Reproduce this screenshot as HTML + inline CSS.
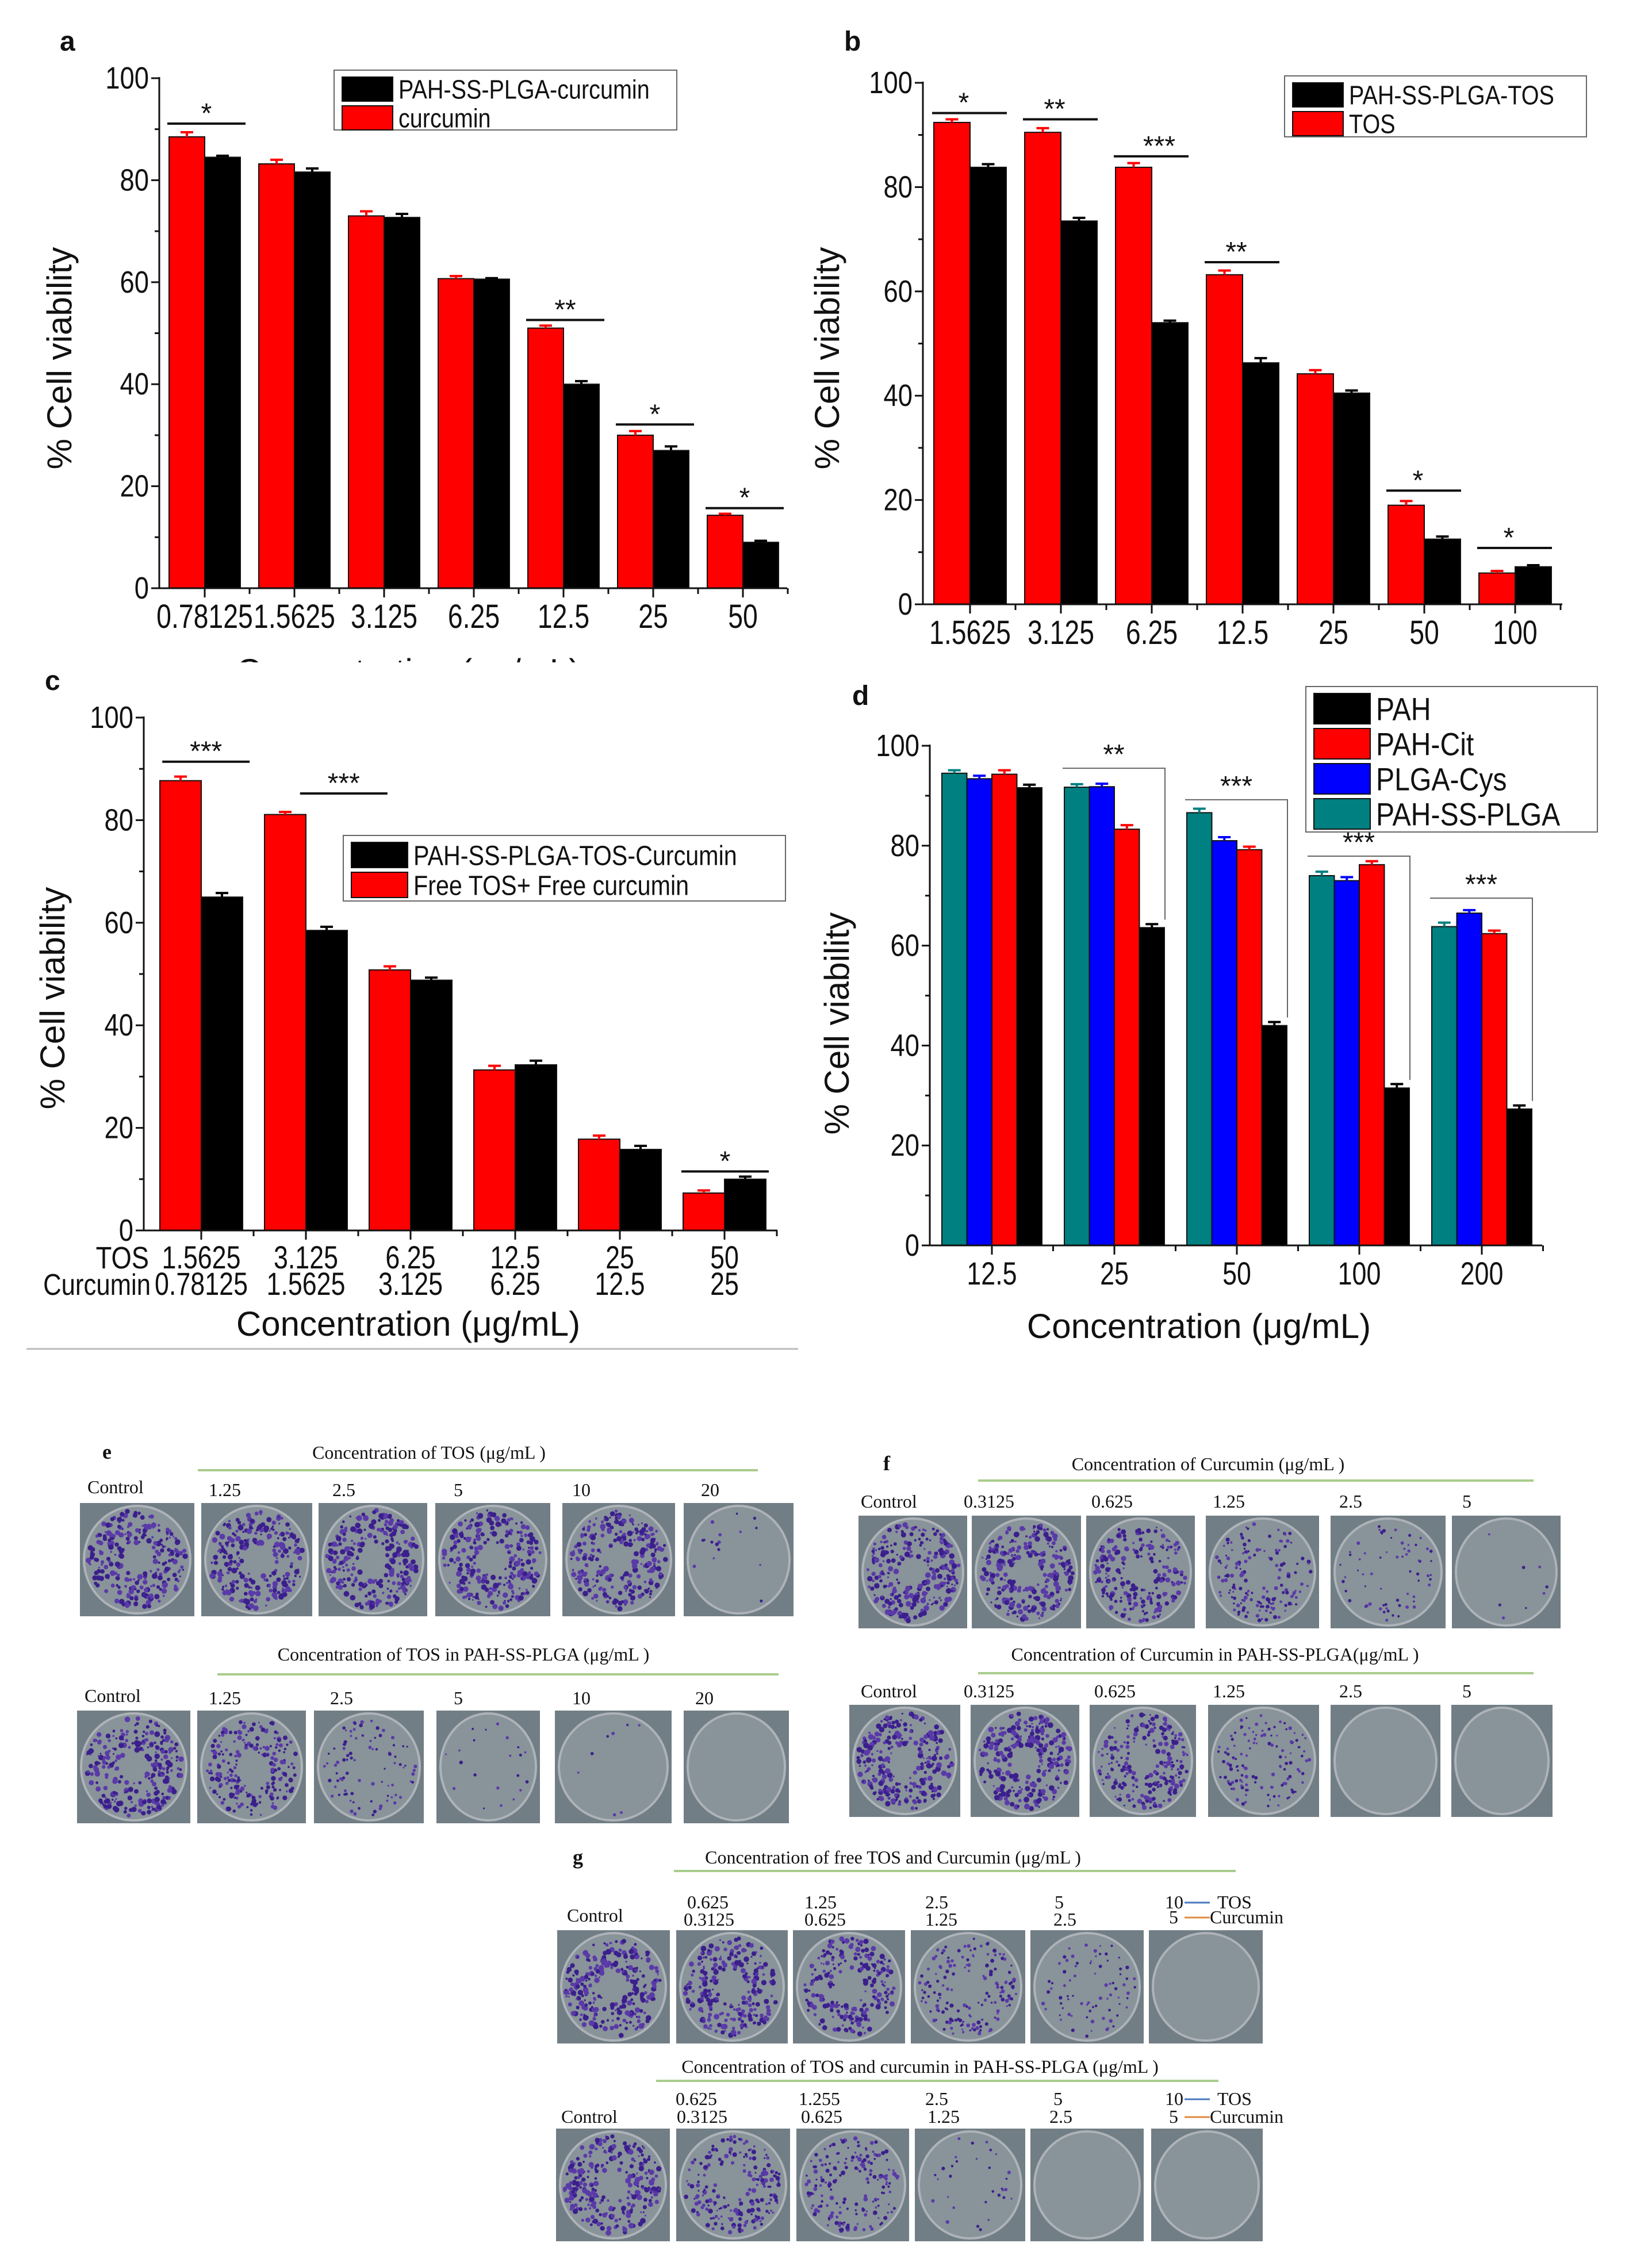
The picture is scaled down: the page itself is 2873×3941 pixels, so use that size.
<!DOCTYPE html>
<html><head><meta charset="utf-8"><title>Cell viability figure</title>
<style>
html,body{margin:0;padding:0;background:#fff;}
svg{display:block;}
text{font-family:"Liberation Sans",Arial,sans-serif;fill:#111;}
.serif{font-family:"Liberation Serif","Times New Roman",serif;}
</style></head>
<body>
<svg id="fig" xmlns="http://www.w3.org/2000/svg" width="2873" height="3941" viewBox="0 0 2873 3941">
<rect x="0" y="0" width="2873" height="3941" fill="#ffffff"/>
<defs><clipPath id="clipA"><rect x="0" y="1100" width="1400" height="52"/></clipPath></defs>
</svg>
<script>
// ---------- Panel a data ----------
const catsA = ['0.78125','1.5625','3.125','6.25','12.5','25','50'];
const redA = [88.5,83.2,73.0,60.7,51.0,30.0,14.3];
const redErrA = [0.9,0.8,0.9,0.5,0.5,0.8,0.3];
const blackA = [84.5,81.6,72.7,60.6,40.0,27.0,9.0];
const blackErrA = [0.3,0.7,0.7,0.2,0.6,0.8,0.3];
const sigGroupsA = [0,4,5,6];
const sigLevelsA = [91.1,52.6,32.1,15.7];
const sigStarsA = ['*','**','*','*'];
const yTicks = [0,20,40,60,80,100];

// ---------- Panel b data ----------
const catsB = ['1.5625','3.125','6.25','12.5','25','50','100'];
const redB = [92.4,90.5,83.8,63.2,44.2,19.0,6.0];
const redErrB = [0.6,0.8,0.8,0.8,0.7,0.8,0.4];
const blackB = [83.8,73.5,54.0,46.3,40.5,12.5,7.2];
const blackErrB = [0.6,0.6,0.4,0.9,0.5,0.5,0.3];
const sigGroupsB = [0,1,2,3,5,6];
const sigLevelsB = [94.2,93.0,85.9,65.6,21.8,10.8];
const sigStarsB = ['*','**','***','**','*','*'];

// ---------- Panel c data ----------
const catsTOSC = ['1.5625','3.125','6.25','12.5','25','50'];
const catsCurC = ['0.78125','1.5625','3.125','6.25','12.5','25'];
const redC = [87.7,81.1,50.8,31.3,17.8,7.3];
const redErrC = [0.8,0.5,0.7,0.8,0.7,0.5];
const blackC = [65.0,58.5,48.8,32.3,15.8,10.0];
const blackErrC = [0.8,0.7,0.5,0.8,0.7,0.5];
const sigGroupsC = [0,1,5];
const sigLevelsC = [91.4,85.2,11.5];
const sigStarsC = ['***','***','*'];

// ---------- Panel d data ----------
const catsD = ['12.5','25','50','100','200'];
const tealD = [94.5,91.7,86.6,74.0,63.8];
const tealErrD = [0.6,0.6,0.8,0.8,0.8];
const blueD = [93.4,91.8,81.0,73.0,66.5];
const blueErrD = [0.6,0.6,0.7,0.7,0.6];
const redD = [94.3,83.3,79.2,76.2,62.4];
const redErrD = [0.8,0.8,0.6,0.7,0.6];
const blackD = [91.6,63.6,44.0,31.5,27.3];
const blackErrD = [0.6,0.7,0.7,0.8,0.7];
const sigGroupsD = [1,2,3,4];
const sigLevelsD = [95.5,89.2,77.9,69.5];
const sigStarsD = ['**','***','***','***'];

const NS='http://www.w3.org/2000/svg';
const svg=document.getElementById('fig');
function mk(tag, attrs, parent){const e=document.createElementNS(NS,tag);for(const k in attrs)e.setAttribute(k,attrs[k]);(parent||svg).appendChild(e);return e;}
function tx(str, attrs, parent){const e=mk('text',attrs,parent);e.textContent=str;return e;}
// condensed text: squeeze horizontally to mimic a narrow font
function ntx(str, attrs, parent, f){const e=tx(str,attrs,parent);const w=e.getComputedTextLength();if(w>0){e.setAttribute('textLength',(w*(f||0.84)).toFixed(1));e.setAttribute('lengthAdjust','spacingAndGlyphs');}return e;}

function drawChart(p){
  const g=mk('g',{});
  
  
  const ys=v=>p.y0-v/100*(p.y0-p.y100);
  const bx=(gi,si)=>p.firstX+gi*p.pitch+si*p.barW;
  p.series.forEach((s,si)=>{
    s.vals.forEach((v,gi)=>{
      const x=bx(gi,si), y=ys(v);
      const r=mk('rect',{x:x,y:y,width:p.barW,height:p.y0-y,fill:s.color,stroke:'#111','stroke-width':2},g);
      
      
      const ye=ys(v+s.errs[gi]); const cx=x+p.barW/2;
      const e1=mk('path',{d:'M'+cx+' '+y+'V'+ye+'M'+(cx-11)+' '+ye+'H'+(cx+11),stroke:s.errColor||s.color,'stroke-width':4,fill:'none'},g);
      
      
    });
  });
  const ax=mk('path',{d:'M'+p.axisX+' '+(p.y100-2)+'V'+p.y0+'H'+p.axisEnd,stroke:'#111','stroke-width':3,fill:'none'},g);
  
  
  for(let v=0;v<=100;v+=10){
    const y=ys(v);
    const t=mk('line',{x1:p.axisX-(v%20===0?14:8),x2:p.axisX,y1:y,y2:y,stroke:'#111','stroke-width':3},g);
    
    
  }
  yTicks.forEach(v=>{
    const t=ntx(String(v),{x:p.axisX-18,y:ys(v)+18,'text-anchor':'end','font-size':p.tickFont||54},g);
    
    
  });
  const ng=p.series[0].vals.length, nb=p.series.length;
  for(let gi=0;gi<=ng;gi++){
    const xb=p.firstX+gi*p.pitch-(p.pitch-nb*p.barW)/2;
    if(gi>0){const t=mk('line',{x1:xb,x2:xb,y1:p.y0,y2:p.y0+10,stroke:'#111','stroke-width':3},g);
      
      }
    if(gi<ng){const xc=p.firstX+gi*p.pitch+nb*p.barW/2;
      const t=mk('line',{x1:xc,x2:xc,y1:p.y0,y2:p.y0+16,stroke:'#111','stroke-width':3},g);
      
      }
  }
  p.xRows.forEach(row=>{
    row.labels.forEach((lab,gi)=>{
      const xc=p.firstX+gi*p.pitch+nb*p.barW/2;
      const t=ntx(lab,{x:xc,y:row.y,'text-anchor':'middle','font-size':row.size||54},g,0.8);
      
      
    });
  });
  const yt=tx('% Cell viability',{x:0,y:0,'text-anchor':'middle','font-size':60,transform:'translate('+p.yTitleX+','+p.yTitleY+') rotate(-90)'},g);
  
  
  const pl=tx(p.letter,{x:p.letterX,y:p.letterY,'font-size':48,'font-weight':'bold'},g);
  
  
  p.sig.groups.forEach((gi,k)=>{
    const y=ys(p.sig.levels[k]);
    const xs=p.firstX+gi*p.pitch+(p.sig.offsets?p.sig.offsets[k]:0)*p.barW-3;
    const xe=xs+nb*p.barW+(p.sig.extra||8);
    let d='M'+xs+' '+y+'H'+xe;
    if(p.sig.bracket){const vb=p.series[nb-1].vals[gi]; d+='V'+(ys(vb)-14);}
    const l=mk('path',{d:d,stroke:p.sig.bracket?'#666':'#111','stroke-width':p.sig.bracket?2:4,fill:'none'},g);
    
    
    const sx=(xs+xe)/2+(p.sig.starShift?p.sig.starShift[k]:0);
    const st=tx(p.sig.stars[k],{x:sx,y:y-(p.sig.bracket?8:2),'text-anchor':'middle','font-size':48},g);
    
    
  });
  const L=p.legend;
  const lb=mk('rect',{x:L.x,y:L.y,width:L.w,height:L.h,fill:'#fff',stroke:'#666','stroke-width':2},g);
  
  
  L.items.forEach((it,k)=>{
    const yy=L.y+L.pad+k*L.row;
    const sw=mk('rect',{x:L.x+14,y:yy,width:L.sw,height:L.row-8,fill:it.color,stroke:'#111','stroke-width':2},g);
    
    
    const t=ntx(it.label,{x:L.x+24+L.sw,y:yy+(L.row-8)/2+L.font*0.36,'font-size':L.font},g,0.86);
    
    
  });
  return g;
}

drawChart({name:'chart-a',letter:'a',letterX:104,letterY:88,axisX:277,axisEnd:1369,y0:1023,y100:136,firstX:294,barW:62,pitch:156,
  series:[{key:'curcumin',vals:redA,errs:redErrA,color:'#ff0000'},{key:'pah-ss-plga-curcumin',vals:blackA,errs:blackErrA,color:'#000'}],
  xRows:[{labels:catsA,y:1092,size:58}],yTitleX:124,yTitleY:623,
  sig:{groups:sigGroupsA,levels:sigLevelsA,stars:sigStarsA,extra:12},
  legend:{x:581,y:122,w:596,h:104,pad:12,row:50,sw:88,font:46,items:[{label:'PAH-SS-PLGA-curcumin',color:'#000'},{label:'curcumin',color:'#ff0000'}]}});

drawChart({name:'chart-b',letter:'b',letterX:1468,letterY:88,axisX:1605,axisEnd:2717,y0:1051,y100:144,firstX:1624,barW:63,pitch:158,
  series:[{key:'tos',vals:redB,errs:redErrB,color:'#ff0000'},{key:'pah-ss-plga-tos',vals:blackB,errs:blackErrB,color:'#000'}],
  xRows:[{labels:catsB,y:1120,size:58}],yTitleX:1459,yTitleY:623,
  sig:{groups:sigGroupsB,levels:sigLevelsB,stars:sigStarsB,extra:4,starShift:[-10,-10,14,-10,-10,-10]},
  legend:{x:2234,y:132,w:525,h:106,pad:12,row:50,sw:88,font:46,items:[{label:'PAH-SS-PLGA-TOS',color:'#000'},{label:'TOS',color:'#ff0000'}]}});

drawChart({name:'chart-c',letter:'c',letterX:78,letterY:1200,axisX:250,axisEnd:1352,y0:2140,y100:1248,firstX:278,barW:72,pitch:182,
  series:[{key:'free-tos-curcumin',vals:redC,errs:redErrC,color:'#ff0000'},{key:'pah-ss-plga-tos-curcumin',vals:blackC,errs:blackErrC,color:'#000'}],
  xRows:[{labels:catsTOSC,y:2206,size:56},{labels:catsCurC,y:2252,size:56}],yTitleX:112,yTitleY:1736,
  sig:{groups:sigGroupsC,levels:sigLevelsC,stars:sigStarsC,offsets:[0.1,0.9,0],extra:0},
  legend:{x:597,y:1453,w:769,h:114,pad:12,row:52,sw:98,font:48,items:[{label:'PAH-SS-PLGA-TOS-Curcumin',color:'#000'},{label:'Free TOS+ Free curcumin',color:'#ff0000'}]}});

drawChart({name:'chart-d',letter:'d',letterX:1482,letterY:1226,axisX:1617,axisEnd:2682,y0:2166,y100:1297,firstX:1638,barW:43.5,pitch:213,
  series:[{key:'pah-ss-plga',vals:tealD,errs:tealErrD,color:'#008080'},{key:'plga-cys',vals:blueD,errs:blueErrD,color:'#0000ff'},{key:'pah-cit',vals:redD,errs:redErrD,color:'#ff0000'},{key:'pah',vals:blackD,errs:blackErrD,color:'#000'}],
  xRows:[{labels:catsD,y:2234,size:56}],yTitleX:1476,yTitleY:1780,
  sig:{groups:sigGroupsD,levels:sigLevelsD,stars:sigStarsD,bracket:true,extra:4},
  legend:{x:2271,y:1194,w:507,h:253,pad:12,row:61,sw:98,font:56,items:[{label:'PAH',color:'#000'},{label:'PAH-Cit',color:'#ff0000'},{label:'PLGA-Cys',color:'#0000ff'},{label:'PAH-SS-PLGA',color:'#008080'}]}});

(function(){
  let t=ntx('TOS',{x:259,y:2206,'text-anchor':'end','font-size':54});
  
  
  t=ntx('Curcumin',{x:262,y:2252,'text-anchor':'end','font-size':52});
  
  
  t=tx('Concentration (μg/mL)',{x:710,y:2323,'text-anchor':'middle','font-size':60});
  
  
  t=tx('Concentration (μg/mL)',{x:2085,y:2327,'text-anchor':'middle','font-size':60});
  
  
  t=tx('Concentration (μg/mL)',{x:710,y:1188,'text-anchor':'middle','font-size':60,'clip-path':'url(#clipA)'});
  
  
  const l=mk('line',{x1:46,x2:1388,y1:2346,y2:2346,stroke:'#bbb','stroke-width':3});
  
  
})();

// ---------- Colony plates (photographs) ----------
let seed=12345;
function rnd(){seed=(seed*1103515245+12345)%2147483648;return seed/2147483648;}
function plate(x0,x1,y0,y1,dens,name){
  const g=mk('g',{});
  
  
  const w=x1-x0,h=y1-y0;
  let r=mk('rect',{x:x0,y:y0,width:w,height:h,fill:'#727e85'},g);
  
  
  const cx=x0+w/2,cy=y0+h/2,rx=w/2-7,ry=h/2-5;
  r=mk('ellipse',{cx:cx,cy:cy,rx:rx,ry:ry,fill:'#89939a',stroke:'#adb3b8','stroke-width':4},g);
  
  
  const n=Math.round(dens*260);
  for(let i=0;i<n;i++){
    const a=rnd()*Math.PI*2; const rr=Math.sqrt(0.1+0.9*rnd())*0.92;
    const c=mk('circle',{cx:cx+Math.cos(a)*rr*rx,cy:cy+Math.sin(a)*rr*ry,r:1.5+rnd()*3.5*Math.max(dens,0.5),fill:rnd()<0.5?'#3b1f8c':'#5a3aa8'},g);
    
    
  }
}
function stxt(s,x,y,size,anchor,name){
  const t=tx(s,{x:x,y:y,'font-size':size,'text-anchor':anchor||'start','class':'serif'});
  
  
  return t;
}
function gline(x1,x2,y,name){
  const l=mk('line',{x1:x1,x2:x2,y1:y,y2:y,stroke:'#a9cc8c','stroke-width':4});
  
  
}
stxt('e',178,2537,36,'start','panel-label-e').setAttribute('font-weight','bold');
stxt('Concentration of TOS (μg/mL )',746,2537,32,'middle','title-e1');
gline(344,1318,2557,'divider-e1');
stxt('Control',152,2597,32,'start','label');
[['1.25',363],['2.5',578],['5',789],['10',995],['20',1219]].forEach(a=>stxt(a[0],a[1],2602,32,'start','concentration-label'));
const e1=[[139,338],[350,543],[554,743],[757,957],[978,1174],[1189,1380]], e1d=[1,1,1,1,1,0.06];
e1.forEach((p,i)=>plate(p[0],p[1],2614,2811,e1d[i],'plate-e1-'+i));
stxt('Concentration of TOS in PAH-SS-PLGA (μg/mL )',806,2888,32,'middle','title-e2');
gline(378,1354,2912,'divider-e2');
stxt('Control',147,2960,32,'start','label');
[['1.25',363],['2.5',574],['5',789],['10',995],['20',1209]].forEach(a=>stxt(a[0],a[1],2964,32,'start','concentration-label'));
const e2=[[134,331],[343,532],[546,737],[759,939],[965,1168],[1189,1372]], e2d=[1,0.8,0.35,0.08,0.03,0];
e2.forEach((p,i)=>plate(p[0],p[1],2975,3171,e2d[i],'plate-e2-'+i));
stxt('f',1536,2557,36,'start','panel-label-f').setAttribute('font-weight','bold');
stxt('Concentration of Curcumin (μg/mL )',2101,2557,32,'middle','title-f1');
gline(1701,2667,2575,'divider-f1');
stxt('Control',1497,2622,32,'start','label');
[['0.3125',1676],['0.625',1898],['1.25',2109],['2.5',2329],['5',2543]].forEach(a=>stxt(a[0],a[1],2622,32,'start','concentration-label'));
const f1=[[1493,1682],[1690,1880],[1889,2078],[2097,2294],[2314,2514],[2525,2714]], f1d=[1,1,0.85,0.6,0.25,0.03];
f1.forEach((p,i)=>plate(p[0],p[1],2636,2832,f1d[i],'plate-f1-'+i));
stxt('Concentration of Curcumin in PAH-SS-PLGA(μg/mL )',2113,2888,32,'middle','title-f2');
gline(1701,2667,2910,'divider-f2');
stxt('Control',1497,2952,32,'start','label');
[['0.3125',1676],['0.625',1903],['1.25',2109],['2.5',2329],['5',2543]].forEach(a=>stxt(a[0],a[1],2952,32,'start','concentration-label'));
const f2=[[1477,1670],[1688,1877],[1895,2080],[2101,2294],[2314,2505],[2524,2700]], f2d=[1,1,0.85,0.5,0,0];
f2.forEach((p,i)=>plate(p[0],p[1],2965,3160,f2d[i],'plate-f2-'+i));
stxt('g',996,3242,36,'start','panel-label-g').setAttribute('font-weight','bold');
stxt('Concentration of free TOS and Curcumin (μg/mL )',1553,3241,32,'middle','title-g1');
gline(1172,2149,3254,'divider-g1');
stxt('Control',986,3342,32,'start','label');
[['0.625','0.3125',1195,1189],['1.25','0.625',1399,1399],['2.5','1.25',1609,1609],['5','2.5',1834,1832]].forEach(a=>{stxt(a[0],a[2],3319,32,'start','tos-concentration');stxt(a[1],a[3],3349,32,'start','curcumin-concentration');});
function arrowLbl(y1,y2){
  stxt('10',2026,y1,32,'start','tos-concentration');
  stxt('5',2033,y2,32,'start','curcumin-concentration');
  let l=mk('line',{x1:2060,x2:2104,y1:y1-10,y2:y1-10,stroke:'#4a78c0','stroke-width':3});
  
  
  l=mk('line',{x1:2060,x2:2104,y1:y2-10,y2:y2-10,stroke:'#e08a40','stroke-width':3});
  
  
  stxt('TOS',2117,y1,32,'start','tos-label');
  stxt('Curcumin',2104,y2,32,'start','curcumin-label');
}
arrowLbl(3319,3345);
const g1=[[969,1165],[1176,1370],[1379,1574],[1584,1783],[1792,1989],[1998,2196]], g1d=[1,1,0.9,0.6,0.3,0];
g1.forEach((p,i)=>plate(p[0],p[1],3357,3554,g1d[i],'plate-g1-'+i));
stxt('Concentration of TOS and curcumin in PAH-SS-PLGA (μg/mL )',1600,3605,32,'middle','title-g2');
gline(1141,2119,3619,'divider-g2');
stxt('Control',976,3692,32,'start','label');
[['0.625','0.3125',1175,1177],['1.255','0.625',1389,1393],['2.5','1.25',1609,1613],['5','2.5',1832,1825]].forEach(a=>{stxt(a[0],a[2],3661,32,'start','tos-concentration');stxt(a[1],a[3],3692,32,'start','curcumin-concentration');});
arrowLbl(3661,3692);
const g2=[[967,1165],[1176,1374],[1385,1581],[1591,1783],[1792,1989],[2002,2196]], g2d=[1,0.8,0.7,0.12,0,0];
g2.forEach((p,i)=>plate(p[0],p[1],3702,3898,g2d[i],'plate-g2-'+i));
</script>
</body></html>
